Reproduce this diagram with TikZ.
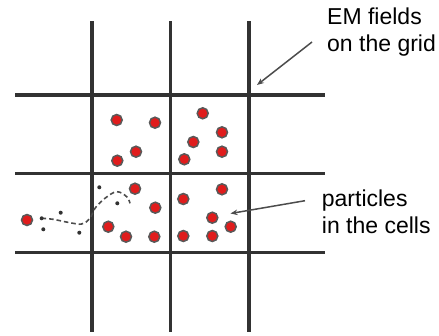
\documentclass[tikz,border=0pt]{standalone}
\usepackage{fontspec}
\setmainfont{Liberation Sans}
\usepackage{tikz}
\usetikzlibrary{arrows.meta}

\definecolor{ptred}{RGB}{224,28,28}
\definecolor{gridgray}{RGB}{50,50,50}

\begin{document}
\begin{tikzpicture}[
    x=1pt, y=-1pt,
    every node/.style={font=\fontsize{23}{27}\selectfont},
    gl/.style={line width=3.2pt, gridgray},
    pt/.style={circle, fill=ptred, draw=gray!70!black, line width=1.5pt,
               minimum size=11pt, inner sep=0pt},
    mk/.style={circle, fill=gridgray, minimum size=4pt, inner sep=0pt},
    lbl/.style={anchor=north west, inner sep=0pt, align=left},
    e/.style={-{Stealth[length=7pt,width=5.5pt]}, line width=1.5pt, gray!60!black},
    trk/.style={dash pattern=on 4.5pt off 3pt, line width=1.6pt, gray!60!black},
  ]
  \useasboundingbox (0,0) rectangle (439,335);
  % grid
  \draw[gl] (15,95) -- (325,95);
  \draw[gl] (15,173.5) -- (325,173.5);
  \draw[gl] (15,252.5) -- (325,252.5);
  \draw[gl] (92,21) -- (92,332);
  \draw[gl] (170.5,21) -- (170.5,332);
  \draw[gl] (249,21) -- (249,332);
  % particles
  \node[pt] (p1) at (116.7,120) {};
  \node[pt] (p2) at (155,122.7) {};
  \node[pt] (p3) at (117.3,160.7) {};
  \node[pt] (p4) at (136,151.7) {};
  \node[pt] (p5) at (202.7,113.3) {};
  \node[pt] (p6) at (222,132.3) {};
  \node[pt] (p7) at (193.3,142) {};
  \node[pt] (p8) at (222,151.7) {};
  \node[pt] (p9) at (184.3,159.3) {};
  \node[pt] (p10) at (135,188.7) {};
  \node[pt] (p11) at (155.3,207.7) {};
  \node[pt] (p12) at (108.3,226.7) {};
  \node[pt] (p13) at (126,236.7) {};
  \node[pt] (p14) at (154.3,236.7) {};
  \node[pt] (p15) at (183.3,199) {};
  \node[pt] (p16) at (222,189.3) {};
  \node[pt] (p17) at (212.3,217.7) {};
  \node[pt] (p18) at (230.7,226.7) {};
  \node[pt] (p19) at (183.3,236) {};
  \node[pt] (p20) at (212.3,236) {};
  \node[pt] (p21) at (27,220) {};
  % track of a moving particle
  \draw[trk] plot[smooth, tension=0.6] coordinates {(41.7,218.3) (53,219.3) (70,222.7)
    (81.7,224) (90,218.3) (95,208.3) (105,198.3) (116.7,191.7) (126.7,196.7) (130,203.3)};
  \node[mk] (m1) at (41.7,218.3) {};
  \node[mk] (m2) at (60.7,212.7) {};
  \node[mk] (m3) at (43.3,229.3) {};
  \node[mk] (m4) at (79.3,232.7) {};
  \node[mk] (m5) at (99.3,187.3) {};
  \node[mk] (m6) at (117.3,203.3) {};
  % labels
  \node[lbl] (emlbl) at (327,7.2) {EM fields\\on the grid};
  \node[lbl] (ptlbl) at (321.7,189.2) {particles\\in the cells};
  \coordinate (emtail) at (312,42);
  \coordinate (emtip) at (257,85);
  \coordinate (pttail) at (305,200.7);
  \coordinate (pttip) at (230.5,213.5);
  \draw[e] (emtail) -- (emtip);
  \draw[e] (pttail) -- (pttip);
\end{tikzpicture}
\end{document}
